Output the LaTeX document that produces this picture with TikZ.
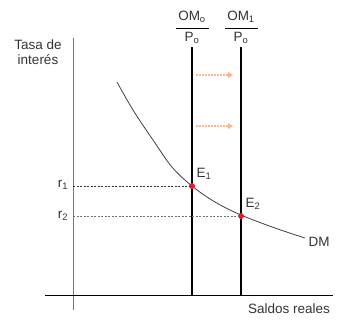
\documentclass[tikz,border=0pt]{standalone}
\usepackage{fontspec}
\setmainfont{Liberation Sans}
\usetikzlibrary{arrows.meta}
\definecolor{axisgray}{RGB}{120,120,120}
\definecolor{shiftor}{RGB}{245,185,150}
\definecolor{eqred}{RGB}{225,30,40}
\begin{document}
\begin{tikzpicture}[x=1pt,y=-1pt,
  lbl/.style={inner sep=0pt,font=\fontsize{13.5}{15}\selectfont,text=black!80},
  axisline/.style={draw=axisgray,line width=0.9pt},
  supply/.style={draw=black,line width=1.6pt},
  supplyb/.style={draw=black,line width=2.2pt},
  guide/.style={draw=black!80,dashed,dash pattern=on 2pt off 1.5pt,line width=0.7pt},
  guideb/.style={draw=black!55,dashed,dash pattern=on 2pt off 1.5pt,line width=0.6pt},
  shiftarrow/.style={draw=shiftor,line width=1.3pt,dash pattern=on 2pt off 1pt,-{Triangle[length=5pt,width=6pt]}},
  eqdot/.style={circle,fill=eqred,inner sep=0pt,minimum size=6pt}]
\useasboundingbox (0,0) rectangle (337,322);
% axes
\coordinate (yTop) at (73,38);
\coordinate (yBot) at (73,310);
\coordinate (xL) at (45,295);
\coordinate (xR) at (333,295);
\draw[axisline] (yTop) -- (yBot);
\draw[black,line width=0.9pt] (xL) -- (xR);
\node[lbl,align=center] (ylab) at (38,52) {Tasa de\\interés};
\node[lbl] (xlab) at (289,309) {Saldos reales};
% supply lines
\node[lbl] (om0) at (192,17) {OM\textsubscript{o}};
\node[lbl] (p0) at (192,38) {P\textsubscript{o}};
\draw[black,line width=0.8pt] (176,28) -- (209,28);
\node[lbl] (om1) at (241,17) {OM\textsubscript{1}};
\node[lbl] (p1) at (241,38) {P\textsubscript{o}};
\draw[black,line width=0.8pt] (225,28) -- (258,28);
\coordinate (s0t) at (192,47);
\coordinate (s0b) at (192,295);
\coordinate (s1t) at (241,47);
\coordinate (s1b) at (241,295);
\draw[supply] (s0t) -- (s0b);
\draw[supplyb] (s1t) -- (s1b);
% shift arrows
\coordinate (a1s) at (196,75); \coordinate (a1e) at (233,75);
\coordinate (a2s) at (196,126); \coordinate (a2e) at (233,126);
\draw[shiftarrow] (a1s) -- (a1e);
\draw[shiftarrow] (a2s) -- (a2e);
% demand curve
\draw[black!75,line width=0.8pt] plot[smooth,tension=0.6] coordinates {(117,82) (133,110) (153,140) (172,167) (192,186) (215,202) (241,215) (275,228) (305,238)};
\node[lbl] (dm) at (319,242) {DM};
% equilibria
\node[eqdot] (e1) at (192,186) {};
\node[eqdot] (e2) at (241,216) {};
\coordinate (r1a) at (73,186);
\coordinate (r2a) at (73,216);
\draw[guide] (r1a) -- (e1);
\draw[guideb] (r2a) -- (e2);
\node[lbl] (r1) at (63,185) {r\textsubscript{1}};
\node[lbl] (r2) at (63,216) {r\textsubscript{2}};
\node[lbl] (e1l) at (204,174) {E\textsubscript{1}};
\node[lbl] (e2l) at (253,204) {E\textsubscript{2}};
\end{tikzpicture}
\end{document}
